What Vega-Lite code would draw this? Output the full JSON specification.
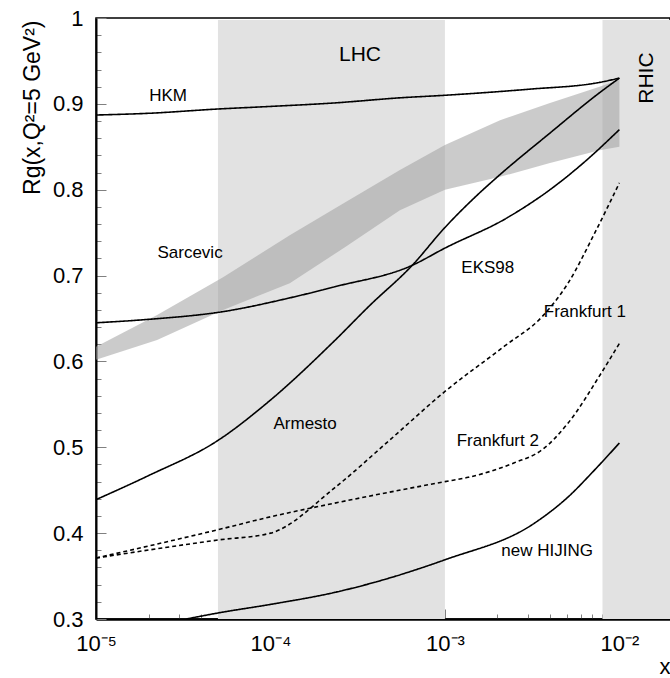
{
  "$schema": "https://vega.github.io/schema/vega-lite/v6.json",
  "width": 574,
  "height": 601,
  "autosize": {"type": "none"},
  "padding": {"left": 96, "top": 18, "right": 0, "bottom": 59},
  "background": "white",
  "config": {
    "view": {"stroke": "black", "strokeWidth": 1.5},
    "font": "Liberation Sans",
    "text": {"font": "Liberation Sans"},
    "axis": {
      "labelOverlap": false, "labelFlush": false, "grid": false, "zindex": 1, "labelBound": false,
      "tickColor": "#808080", "tickWidth": 1, "domainColor": "black",
      "labelFont": "Liberation Sans", "labelFontSize": 22, "labelColor": "black",
      "titleFont": "Liberation Sans", "titleFontWeight": "normal"
    },
    "axisX": {"domainWidth": 2.5, "labelPadding": 24, "titleFontSize": 22, "titleAlign": "right", "titleBaseline": "alphabetic", "titleX": 574, "titleY": 54},
    "axisY": {"domainWidth": 2, "labelPadding": 23, "titleFontSize": 23, "titleAngle": -90, "titleAlign": "right", "titleBaseline": "middle", "titleX": -64, "titleY": 2}
  },
  "datasets": {
    "regions": [
      {"region": "LHC", "x": 5e-5, "x2": 1e-3},
      {"region": "RHIC", "x": 8e-3, "x2": 0.0195}
    ],
    "band": [
      {"x": 1e-5, "lo": 0.602, "hi": 0.617},
      {"x": 2.24e-5, "lo": 0.625, "hi": 0.654},
      {"x": 5.35e-5, "lo": 0.660, "hi": 0.698},
      {"x": 1.29e-4, "lo": 0.691, "hi": 0.747},
      {"x": 2.67e-4, "lo": 0.733, "hi": 0.785},
      {"x": 5.52e-4, "lo": 0.776, "hi": 0.823},
      {"x": 1e-3, "lo": 0.800, "hi": 0.852},
      {"x": 2.07e-3, "lo": 0.815, "hi": 0.881},
      {"x": 4e-3, "lo": 0.831, "hi": 0.901},
      {"x": 7.7e-3, "lo": 0.846, "hi": 0.920},
      {"x": 1e-2, "lo": 0.850, "hi": 0.928}
    ],
    "curves": [
      {"series": "HKM", "x": 1e-5, "y": 0.887},
      {"series": "HKM", "x": 2e-5, "y": 0.889},
      {"series": "HKM", "x": 5e-5, "y": 0.894},
      {"series": "HKM", "x": 1e-4, "y": 0.897},
      {"series": "HKM", "x": 2.3e-4, "y": 0.901},
      {"series": "HKM", "x": 5.5e-4, "y": 0.907},
      {"series": "HKM", "x": 1e-3, "y": 0.910},
      {"series": "HKM", "x": 3e-3, "y": 0.917},
      {"series": "HKM", "x": 7.7e-3, "y": 0.925},
      {"series": "HKM", "x": 1e-2, "y": 0.930},
      {"series": "Armesto", "x": 1e-5, "y": 0.439},
      {"series": "Armesto", "x": 2e-5, "y": 0.467},
      {"series": "Armesto", "x": 5e-5, "y": 0.508},
      {"series": "Armesto", "x": 1e-4, "y": 0.555},
      {"series": "Armesto", "x": 2.3e-4, "y": 0.623},
      {"series": "Armesto", "x": 3.7e-4, "y": 0.665},
      {"series": "Armesto", "x": 6.5e-4, "y": 0.712},
      {"series": "Armesto", "x": 1e-3, "y": 0.756},
      {"series": "Armesto", "x": 1.5e-3, "y": 0.792},
      {"series": "Armesto", "x": 2e-3, "y": 0.815},
      {"series": "Armesto", "x": 4e-3, "y": 0.866},
      {"series": "Armesto", "x": 7.7e-3, "y": 0.913},
      {"series": "Armesto", "x": 1e-2, "y": 0.930},
      {"series": "EKS98", "x": 1e-5, "y": 0.645},
      {"series": "EKS98", "x": 2e-5, "y": 0.649},
      {"series": "EKS98", "x": 5.35e-5, "y": 0.658},
      {"series": "EKS98", "x": 1.29e-4, "y": 0.674},
      {"series": "EKS98", "x": 2.34e-4, "y": 0.687},
      {"series": "EKS98", "x": 6.5e-4, "y": 0.712},
      {"series": "EKS98", "x": 1e-3, "y": 0.732},
      {"series": "EKS98", "x": 2.26e-3, "y": 0.767},
      {"series": "EKS98", "x": 4e-3, "y": 0.800},
      {"series": "EKS98", "x": 6.2e-3, "y": 0.831},
      {"series": "EKS98", "x": 1e-2, "y": 0.870},
      {"series": "Frankfurt 1", "x": 1e-5, "y": 0.371},
      {"series": "Frankfurt 1", "x": 5e-5, "y": 0.392},
      {"series": "Frankfurt 1", "x": 1e-4, "y": 0.400},
      {"series": "Frankfurt 1", "x": 2.34e-4, "y": 0.453},
      {"series": "Frankfurt 1", "x": 4.8e-4, "y": 0.508},
      {"series": "Frankfurt 1", "x": 1e-3, "y": 0.565},
      {"series": "Frankfurt 1", "x": 2.2e-3, "y": 0.618},
      {"series": "Frankfurt 1", "x": 3.6e-3, "y": 0.652},
      {"series": "Frankfurt 1", "x": 5.07e-3, "y": 0.691},
      {"series": "Frankfurt 1", "x": 7.24e-3, "y": 0.750},
      {"series": "Frankfurt 1", "x": 1e-2, "y": 0.808},
      {"series": "Frankfurt 2", "x": 1e-5, "y": 0.371},
      {"series": "Frankfurt 2", "x": 5e-5, "y": 0.404},
      {"series": "Frankfurt 2", "x": 1e-4, "y": 0.419},
      {"series": "Frankfurt 2", "x": 2.34e-4, "y": 0.435},
      {"series": "Frankfurt 2", "x": 1e-3, "y": 0.460},
      {"series": "Frankfurt 2", "x": 1.36e-3, "y": 0.465},
      {"series": "Frankfurt 2", "x": 2.5e-3, "y": 0.482},
      {"series": "Frankfurt 2", "x": 3.6e-3, "y": 0.497},
      {"series": "Frankfurt 2", "x": 5.07e-3, "y": 0.528},
      {"series": "Frankfurt 2", "x": 7.9e-3, "y": 0.587},
      {"series": "Frankfurt 2", "x": 1e-2, "y": 0.621},
      {"series": "new HIJING", "x": 3.3e-5, "y": 0.300},
      {"series": "new HIJING", "x": 5e-5, "y": 0.307},
      {"series": "new HIJING", "x": 1e-4, "y": 0.317},
      {"series": "new HIJING", "x": 2.34e-4, "y": 0.331},
      {"series": "new HIJING", "x": 1e-3, "y": 0.369},
      {"series": "new HIJING", "x": 3.28e-3, "y": 0.412},
      {"series": "new HIJING", "x": 5.07e-3, "y": 0.442},
      {"series": "new HIJING", "x": 7.24e-3, "y": 0.474},
      {"series": "new HIJING", "x": 1e-2, "y": 0.505}
    ],
    "labels": [
      {"text": "HKM", "x": 2.59e-5, "y": 0.909, "size": 17},
      {"text": "LHC", "x": 3.26e-4, "y": 0.957, "size": 21},
      {"text": "Sarcevic", "x": 3.46e-5, "y": 0.726, "size": 17},
      {"text": "EKS98", "x": 1.76e-3, "y": 0.709, "size": 17},
      {"text": "Frankfurt 1", "x": 6.34e-3, "y": 0.658, "size": 17},
      {"text": "Armesto", "x": 1.58e-4, "y": 0.527, "size": 17},
      {"text": "Frankfurt 2", "x": 2.01e-3, "y": 0.507, "size": 17},
      {"text": "new HIJING", "x": 3.85e-3, "y": 0.379, "size": 17}
    ],
    "vlabels": [
      {"text": "RHIC", "x": 0.0144, "y": 0.930}
    ]
  },
  "encoding": {
    "x": {
      "field": "x", "type": "quantitative",
      "scale": {"type": "log", "domain": [1e-5, 0.0195], "nice": false},
      "axis": {
        "values": [1e-5, 2e-5, 3e-5, 4e-5, 5e-5, 6e-5, 7e-5, 8e-5, 9e-5, 1e-4, 2e-4, 3e-4, 4e-4, 5e-4, 6e-4, 7e-4, 8e-4, 9e-4, 1e-3, 2e-3, 3e-3, 4e-3, 5e-3, 6e-3, 7e-3, 8e-3, 9e-3, 1e-2],
        "labelExpr": "datum.value < 1.5e-5 ? '10⁻⁵' : (datum.value > 0.99e-4 && datum.value < 1.01e-4) ? '10⁻⁴' : (datum.value > 0.99e-3 && datum.value < 1.01e-3) ? '10⁻³' : (datum.value > 0.99e-2 && datum.value < 1.01e-2) ? '10⁻²' : ''",
        "tickSize": {"condition": {"test": "abs(log(datum.value)/LN10 - round(log(datum.value)/LN10)) < 0.01", "value": -10}, "value": -5},
        "title": "x"
      }
    },
    "y": {
      "field": "y", "type": "quantitative",
      "scale": {"domain": [0.3, 1], "nice": false, "zero": false},
      "axis": {
        "values": [0.3, 0.32, 0.34, 0.36, 0.38, 0.4, 0.42, 0.44, 0.46, 0.48, 0.5, 0.52, 0.54, 0.56, 0.58, 0.6, 0.62, 0.64, 0.66, 0.68, 0.7, 0.72, 0.74, 0.76, 0.78, 0.8, 0.82, 0.84, 0.86, 0.88, 0.9, 0.92, 0.94, 0.96, 0.98, 1.0],
        "labelExpr": "abs(datum.value*10 - round(datum.value*10)) < 0.001 ? (datum.value > 0.999 ? '1' : format(datum.value, '.1f')) : ''",
        "tickSize": {"condition": {"test": "abs(datum.value*10 - round(datum.value*10)) < 0.001", "value": -10}, "value": -5},
        "title": "Rg(x,Q²=5 GeV²)"
      }
    }
  },
  "layer": [
    {
      "data": {"name": "regions"},
      "mark": {"type": "rect", "color": "#e2e2e2", "clip": true, "y": 2, "y2": {"expr": "height"}},
      "encoding": {
        "x2": {"field": "x2"},
        "y": null
      }
    },
    {
      "data": {"name": "band"},
      "mark": {"type": "area", "color": "#a0a0a0", "opacity": 0.55, "clip": true},
      "encoding": {
        "y": {"field": "lo", "type": "quantitative"},
        "y2": {"field": "hi"}
      }
    },
    {
      "data": {"name": "curves"},
      "mark": {"type": "line", "color": "black", "strokeWidth": 1.6, "interpolate": "monotone", "clip": true},
      "encoding": {
        "detail": {"field": "series"},
        "strokeDash": {
          "field": "series", "type": "nominal", "legend": null,
          "scale": {"domain": ["HKM", "Armesto", "EKS98", "new HIJING", "Frankfurt 1", "Frankfurt 2"], "range": [[1, 0], [1, 0], [1, 0], [1, 0], [4, 3], [4, 3]]}
        }
      }
    },
    {
      "data": {"name": "labels"},
      "mark": {"type": "text", "color": "black", "font": "Liberation Sans", "align": "center", "baseline": "middle"},
      "encoding": {
        "text": {"field": "text"},
        "size": {"field": "size", "type": "quantitative", "scale": null, "legend": null}
      }
    },
    {
      "data": {"name": "vlabels"},
      "mark": {"type": "text", "color": "black", "font": "Liberation Sans", "align": "center", "baseline": "middle", "angle": 270, "fontSize": 21},
      "encoding": {
        "text": {"field": "text"}
      }
    }
  ]
}
